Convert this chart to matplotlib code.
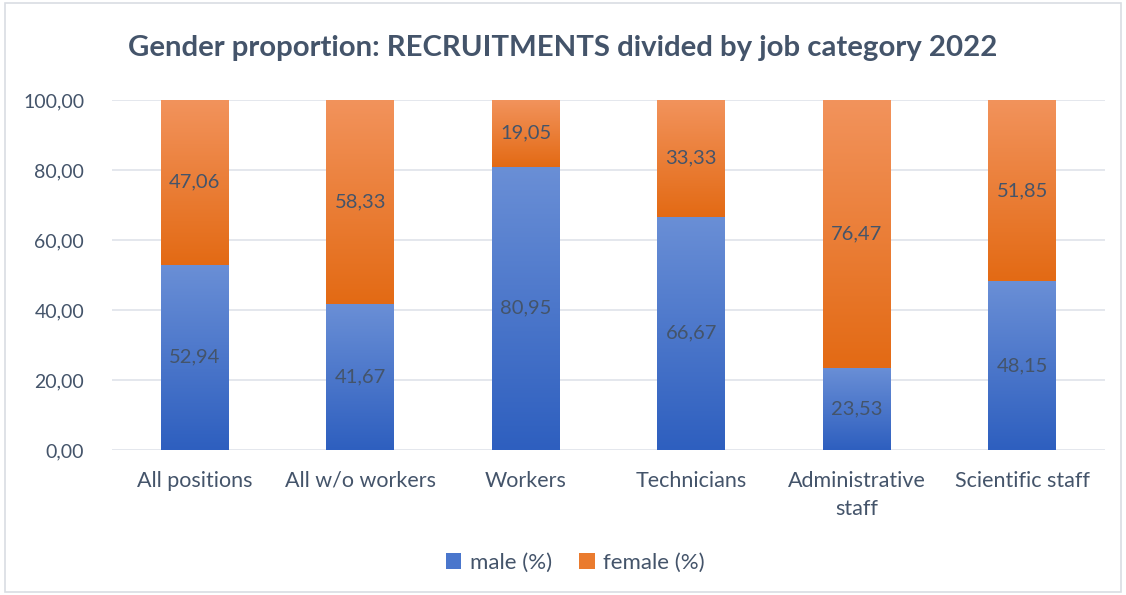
import matplotlib.pyplot as plt
import numpy as np
from matplotlib.patches import Rectangle, Patch
from matplotlib.colors import LinearSegmentedColormap

plt.rcParams['font.family'] = ['Lato', 'DejaVu Sans']

categories = ["All positions", "All w/o workers", "Workers", "Technicians",
              "Administrative\nstaff", "Scientific staff"]
male = [52.94, 41.67, 80.95, 66.67, 23.53, 48.15]
female = [47.06, 58.33, 19.05, 33.33, 76.47, 51.85]

text_col = "#44546a"
blue_top, blue_bot = "#6a8fd6", "#2e5fbf"
orange_top, orange_bot = "#f2935c", "#e36a14"

fig = plt.figure(figsize=(11.26, 5.95), dpi=100)
ax = fig.add_axes([112 / 1126, (595 - 450) / 595, 993 / 1126, 350 / 595])

x = np.arange(len(categories))
width = 0.41


def grad_bars(bars, top, bot):
    # paint a vertical gradient inside every bar
    cmap = LinearSegmentedColormap.from_list("g", [bot, top])
    grad = np.linspace(0, 1, 256).reshape(-1, 1)
    for b in bars:
        x0, y0 = b.get_x(), b.get_y()
        w, h = b.get_width(), b.get_height()
        b.set_facecolor("none")
        im = ax.imshow(grad, cmap=cmap, aspect="auto", origin="lower",
                       extent=[x0, x0 + w, y0, y0 + h], zorder=2)
        im.set_clip_path(b)


bm = ax.bar(x, male, width, color=blue_bot, zorder=2, linewidth=0)
bf = ax.bar(x, female, width, bottom=male, color=orange_bot, zorder=2, linewidth=0)
grad_bars(bm, blue_top, blue_bot)
grad_bars(bf, orange_top, orange_bot)

for i in range(len(categories)):
    ax.text(x[i], male[i] / 2, f"{male[i]:.2f}".replace(".", ","),
            ha="center", va="center", fontsize=14.5, color=text_col, zorder=3)
    ax.text(x[i], male[i] + female[i] / 2, f"{female[i]:.2f}".replace(".", ","),
            ha="center", va="center", fontsize=14.5, color=text_col, zorder=3)

ax.set_xlim(-0.5, len(categories) - 0.5)
ax.set_ylim(0, 100)
ax.set_yticks(np.arange(0, 101, 20))
ax.set_yticklabels([f"{v:.2f}".replace(".", ",") for v in np.arange(0, 101, 20)])
ax.set_xticks(x)
ax.set_xticklabels(categories, linespacing=1.5)
ax.tick_params(axis="y", length=0, labelsize=14, labelcolor=text_col, pad=20)
ax.tick_params(axis="x", length=0, labelsize=15.5, labelcolor=text_col, pad=15)
for t in ax.get_xticklabels():
    t.set_va("top")

ax.yaxis.grid(True, color="#dfe3ea", linewidth=1.2, zorder=0)
ax.set_axisbelow(True)
for s in ax.spines.values():
    s.set_visible(False)

fig.text(0.5, 1 - 48 / 595, "Gender proportion: RECRUITMENTS divided by job category 2022",
         ha="center", va="center", fontsize=21.2, fontweight="bold", color=text_col)

handles = [Patch(facecolor="#4a76cc", label="male (%)"),
           Patch(facecolor="#ea7b2e", label="female (%)")]
fig.legend(handles=handles, loc="center", bbox_to_anchor=(0.511, 1 - 563 / 595),
           ncol=2, frameon=False, fontsize=16, labelcolor=text_col,
           handlelength=0.7, handleheight=0.7, columnspacing=1.2, handletextpad=0.4)

fig.patches.append(Rectangle((5 / 1126, 3 / 595), 1116 / 1126, 589 / 595,
                             transform=fig.transFigure, fill=False,
                             edgecolor="#d9dde3", linewidth=1.2))

fig.savefig("out.png", dpi=100)
